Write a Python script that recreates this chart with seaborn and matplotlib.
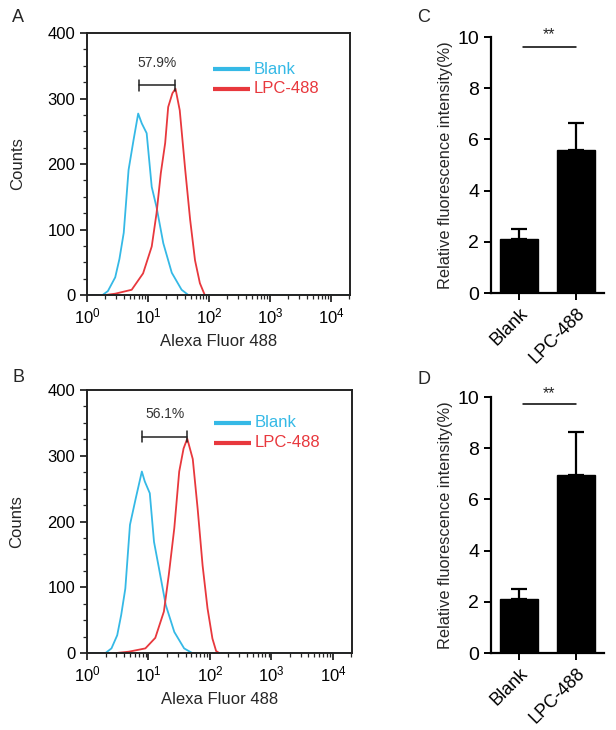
import numpy as np
import pandas as pd
import matplotlib
matplotlib.use("Agg")
import matplotlib.pyplot as plt
import seaborn as sns
from matplotlib.ticker import MultipleLocator, LogLocator, NullFormatter, LogFormatterMathtext

sns.set_style("ticks")
plt.rcParams["font.family"] = ["Liberation Sans", "DejaVu Sans"]
plt.rcParams["mathtext.fontset"] = "custom"
plt.rcParams["mathtext.rm"] = "Liberation Sans"
plt.rcParams["mathtext.it"] = "Liberation Sans:italic"
plt.rcParams["mathtext.bf"] = "Liberation Sans:bold"

# ---------------- data ----------------
# Panel A histograms
a_blank_x = [1.0, 1.8, 2.2, 2.9, 3.4, 4.0, 4.8, 5.8, 6.9, 7.9, 9.5, 11.5, 13.8, 17.8, 24.5, 35.5, 45.7, 20000]
a_blank_y = [0, 0, 6, 27, 55, 95, 191, 237, 277, 262, 247, 165, 134, 79, 34, 8, 0, 0]
a_lpc_x = [2.0, 2.9, 5.4, 8.3, 11.5, 13.8, 16.2, 19.1, 21.4, 25.1, 28.2, 33.1, 40.7, 49.0, 58.9, 70.8, 85.1]
a_lpc_y = [0, 2, 8, 33, 74, 125, 186, 232, 287, 308, 315, 282, 191, 115, 53, 18, 0]
a_gate = [7.1, 27.5]
a_gate_y = 320
a_pct = "57.9%"

# Panel B histograms
b_blank_x = [1.0, 2.0, 2.5, 3.1, 3.6, 4.2, 5.0, 6.2, 7.8, 8.7, 10.5, 12.3, 14.8, 19.1, 26.3, 38.0, 51.3, 20000]
b_blank_y = [0, 0, 7, 27, 58, 98, 195, 235, 276, 261, 243, 169, 129, 73, 32, 7, 0, 0]
b_lpc_x = [3.0, 4.8, 8.9, 12.9, 17.8, 21.4, 26.3, 31.6, 37.2, 42.7, 52.5, 63.1, 75.9, 91.2, 109.6, 125.9, 141.3]
b_lpc_y = [0, 2, 7, 23, 63, 119, 190, 276, 311, 326, 295, 219, 133, 68, 22, 3, 0]
b_gate = [7.9, 42.7]
b_gate_y = 329
b_pct = "56.1%"

# Panels C / D bar charts
groups = ["Blank", "LPC-488"]
c_means = [2.1, 5.6]
c_err = [0.4, 1.05]
d_means = [2.1, 6.95]
d_err = [0.4, 1.7]
sig_label = "**"

series_names = ["Blank", "LPC-488"]
cyan = "#35b9e6"
red = "#e8383d"

W, H = 616, 730
fig = plt.figure(figsize=(W / 100, H / 100), dpi=100)


def rect(l, t, r, b):
    return [l / W, 1 - b / H, (r - l) / W, (b - t) / H]


def hist_panel(ax, bx, by, lx, ly, gate, gate_y, pct, leg_y):
    sns.lineplot(x=bx, y=by, ax=ax, color=cyan, lw=1.3, sort=True)
    sns.lineplot(x=lx, y=ly, ax=ax, color=red, lw=1.3, sort=True)
    ax.set_xscale("log")
    ax.set_xlim(1, 10 ** 4.31)
    ax.set_ylim(0, 400)
    ax.yaxis.set_major_locator(MultipleLocator(100))
    ax.yaxis.set_minor_locator(MultipleLocator(25))
    ax.xaxis.set_major_locator(LogLocator(base=10, numticks=10))
    ax.xaxis.set_major_formatter(LogFormatterMathtext())
    ax.xaxis.set_minor_locator(LogLocator(base=10, subs=np.arange(2, 10), numticks=20))
    ax.xaxis.set_minor_formatter(NullFormatter())
    ax.tick_params(axis="both", which="major", direction="out", length=5, width=1.1,
                   labelsize=12, colors="black")
    ax.tick_params(axis="both", which="minor", direction="out", length=3, width=0.9)
    for s in ax.spines.values():
        s.set_linewidth(1.4)
        s.set_color("#222222")
        s.set_visible(True)
    ax.set_xlabel("Alexa Fluor 488", fontsize=12, labelpad=5)
    ax.set_ylabel("Counts", fontsize=12)
    ax.yaxis.set_label_coords(-0.236, 0.5)
    # gate marker
    ax.plot(gate, [gate_y, gate_y], color="#222222", lw=1.1)
    for g in gate:
        ax.plot([g, g], [gate_y - 8, gate_y + 8], color="#222222", lw=1.1)
    ax.text(np.sqrt(gate[0] * gate[1]), gate_y + 24, pct, ha="center", va="bottom",
            fontsize=10, color="#333333")
    # legend
    for i, (name, col) in enumerate(zip(series_names, [cyan, red])):
        yy = leg_y[i]
        ax.plot([0.479, 0.62], [yy, yy], transform=ax.transAxes, color=col, lw=3,
                solid_capstyle="butt")
        ax.text(0.632, yy, name, transform=ax.transAxes, color=col, fontsize=12,
                ha="left", va="center")


def bar_panel(ax, means, errs, sig_y, star_y):
    df = pd.DataFrame({"group": groups, "value": means})
    sns.barplot(data=df, x="group", y="value", ax=ax, color="black", width=0.67,
                errorbar=None, saturation=1, edgecolor="black")
    ax.errorbar(x=[0, 1], y=means, yerr=[[0, 0], errs], fmt="none", ecolor="black",
                elinewidth=1.6, capsize=5.5, capthick=1.6)
    ax.set_xlim(-0.49, 1.49)
    ax.set_ylim(0, 10)
    ax.yaxis.set_major_locator(MultipleLocator(2))
    sns.despine(ax=ax)
    for s in ["left", "bottom"]:
        ax.spines[s].set_linewidth(1.6)
        ax.spines[s].set_color("black")
    ax.tick_params(axis="both", direction="out", length=5, width=1.4, labelsize=14,
                   colors="black")
    ax.set_xlabel("")
    ax.set_ylabel("Relative fluorescence intensity(%)", fontsize=11.8)
    ax.yaxis.set_label_coords(-0.336, 0.5)
    ax.set_xticks([0, 1])
    ax.set_xticklabels(groups, rotation=45, ha="right", rotation_mode="anchor",
                       fontsize=13)
    ax.plot([0.07, 1.0], [sig_y, sig_y], color="black", lw=1.1, clip_on=False)
    ax.text(0.53, star_y, sig_label, ha="center", va="center", fontsize=11.5,
            clip_on=False)


axA = fig.add_axes(rect(87, 33, 350, 295))
hist_panel(axA, a_blank_x, a_blank_y, a_lpc_x, a_lpc_y, a_gate, a_gate_y, a_pct,
           [0.8625, 0.7875])

axB = fig.add_axes(rect(87, 390, 352, 653))
hist_panel(axB, b_blank_x, b_blank_y, b_lpc_x, b_lpc_y, b_gate, b_gate_y, b_pct,
           [0.875, 0.80])

axC = fig.add_axes(rect(491, 37, 604, 293))
bar_panel(axC, c_means, c_err, 9.62, 10.1)

axD = fig.add_axes(rect(491, 397, 604, 653))
bar_panel(axD, d_means, d_err, 9.71, 10.15)

for lab, (x, y) in zip("ABCD", [(18, 17), (18, 378), (424, 17), (424, 380)]):
    fig.text(x / W, 1 - y / H, lab, fontsize=13, ha="center", va="center")

fig.savefig("out.png", dpi=100)
